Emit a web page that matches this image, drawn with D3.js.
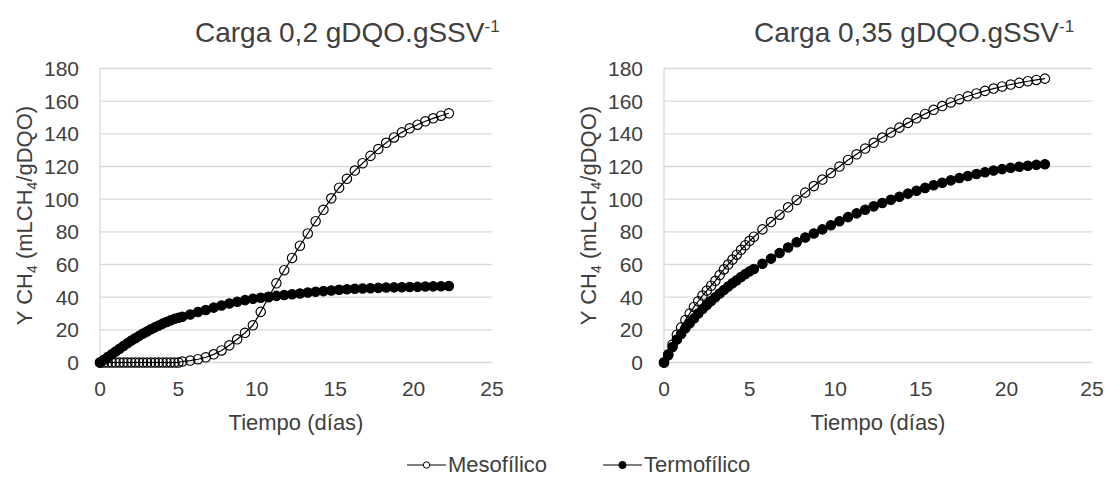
<!DOCTYPE html>
<html>
<head>
<meta charset="utf-8">
<script src="https://cdn.jsdelivr.net/npm/d3@7"></script>
<style>
  html, body { margin: 0; padding: 0; background: #fff; }
  svg { display: block; }
  text { font-family: "Liberation Sans", Arial, sans-serif; fill: #404040; }
</style>
</head>
<body>
<svg id="chart" width="1105" height="477"></svg>
<script>
// ---------- DATA ----------
const xTicks = [0, 5, 10, 15, 20, 25];
const yTicks = [0, 20, 40, 60, 80, 100, 120, 140, 160, 180];
const seriesNames = ["Mesofílico", "Termofílico"];
const chartTitles = ["Carga 0,2 gDQO.gSSV", "Carga 0,35 gDQO.gSSV"];

// time (days), shared by all series
const tiempo = [
  0, 0.25, 0.5, 0.75, 1, 1.25, 1.5, 1.75, 2, 2.25, 2.5, 2.75, 3, 3.25, 3.5, 3.75, 4, 4.25, 4.5, 4.75, 5,
  5.25, 5.75, 6.25, 6.75, 7.25, 7.75, 8.25, 8.75, 9.25, 9.75, 10.25, 10.75, 11.25, 11.75, 12.25, 12.75,
  13.25, 13.75, 14.25, 14.75, 15.25, 15.75, 16.25, 16.75, 17.25, 17.75, 18.25, 18.75, 19.25, 19.75,
  20.25, 20.75, 21.25, 21.75, 22.25
];

// Carga 0,2
const meso02 = [
  0, 0, 0, 0, 0, 0, 0, 0, 0, 0, 0, 0, 0, 0, 0, 0, 0, 0, 0, 0, 0,
  0.6, 1.2, 2.0, 3.2, 5.0, 7.4, 10.5, 14.2, 18.2, 22.8, 31, 40, 48.5, 56.5, 64, 71.5,
  79, 86.5, 93.5, 100.5, 107, 112.5, 117.5, 122, 126.5, 130.7, 134.5, 137.8, 140.9, 143.4,
  145.6, 147.7, 149.5, 151.1, 152.6
];
const termo02 = [
  0, 1.7, 3.4, 5.0, 6.7, 8.4, 10.1, 11.8, 13.4, 14.9, 16.3, 17.7, 19.0, 20.3, 21.5, 22.7, 23.8, 24.8, 25.8, 26.7, 27.4,
  28.0, 29.4, 30.9, 32.2, 33.6, 34.9, 36.1, 37.2, 38.2, 39.0, 39.7, 40.3, 40.8, 41.3, 41.8, 42.3,
  42.8, 43.3, 43.7, 44.1, 44.5, 44.8, 45.1, 45.3, 45.5, 45.7, 45.9, 46.0, 46.1, 46.2,
  46.3, 46.5, 46.6, 46.7, 46.8
];

// Carga 0,35
const meso035 = [
  0, 5, 11, 17, 21.5, 26, 30, 34, 37.5, 41, 44, 47, 50, 53.5, 57, 60, 63, 66, 69, 71.8, 74.5,
  77, 81.5, 86, 90.5, 95, 99.5, 104, 108, 112, 116, 120, 124, 127.5, 131, 134.5, 137.7,
  140.8, 143.8, 146.7, 149.5, 152.2, 154.7, 157, 159.2, 161.2, 163, 164.7, 166.3, 167.7, 169,
  170.2, 171.2, 172.2, 173, 173.8
];
const termo035 = [
  0, 4.5, 9.5, 14, 17.5, 21, 24, 27, 30, 32.7, 35.2, 37.6, 40, 42.2, 44.4, 46.5, 48.5, 50.4, 52.3, 54.1, 55.8,
  57.3, 60.4, 63.6, 67, 70.4, 73.6, 76.5, 79, 81.5, 84, 86.5, 89, 91.3, 93.5, 95.6, 97.6,
  99.6, 101.5, 103.4, 105.2, 106.9, 108.5, 110, 111.5, 112.9, 114.2, 115.4, 116.5, 117.5, 118.4,
  119.2, 119.9, 120.5, 121, 121.4
];

const panels = [
  { title: chartTitles[0], series: [meso02, termo02] },
  { title: chartTitles[1], series: [meso035, termo035] }
];

// ---------- LAYOUT ----------
const layout = [
  { x0: 100, x1: 492, yTop: 68.5, yBot: 362.5, titleX: 195, yTitleX: 32 },
  { x0: 664, x1: 1092, yTop: 68.5, yBot: 362.5, titleX: 754, yTitleX: 596 }
];
const gridColor = "#d9d9d9";
const svg = d3.select("#chart");

panels.forEach((p, i) => {
  const L = layout[i];
  const x = d3.scaleLinear().domain([0, 25]).range([L.x0, L.x1]);
  const y = d3.scaleLinear().domain([0, 180]).range([L.yBot, L.yTop]);
  const g = svg.append("g");

  // gridlines
  g.selectAll("line.grid").data(yTicks).join("line")
    .attr("x1", L.x0).attr("x2", L.x1)
    .attr("y1", d => y(d)).attr("y2", d => y(d))
    .attr("stroke", gridColor).attr("stroke-width", 1.3);
  // vertical axis line
  g.append("line")
    .attr("x1", L.x0).attr("x2", L.x0).attr("y1", y(180)).attr("y2", y(0))
    .attr("stroke", gridColor).attr("stroke-width", 1.3);

  // y tick labels
  g.selectAll("text.yt").data(yTicks).join("text")
    .attr("x", L.x0 - 21).attr("y", d => y(d)).attr("dy", "0.36em")
    .attr("text-anchor", "end").attr("font-size", 21).text(d => d);
  // x tick labels
  g.selectAll("text.xt").data(xTicks).join("text")
    .attr("x", d => x(d)).attr("y", 396)
    .attr("text-anchor", "middle").attr("font-size", 21).text(d => d);

  // x axis title
  g.append("text").attr("x", (L.x0 + L.x1) / 2).attr("y", 430)
    .attr("text-anchor", "middle").attr("font-size", 22).text("Tiempo (días)");

  // y axis title
  const yt = g.append("text")
    .attr("transform", `translate(${L.yTitleX},${(L.yTop + L.yBot) / 2}) rotate(-90)`)
    .attr("text-anchor", "middle").attr("font-size", 22);
  yt.append("tspan").text("Y CH");
  yt.append("tspan").attr("font-size", 14).attr("dy", 5).text("4");
  yt.append("tspan").attr("dy", -5).text(" (mLCH");
  yt.append("tspan").attr("font-size", 14).attr("dy", 5).text("4");
  yt.append("tspan").attr("dy", -5).text("/gDQO)");

  // chart title
  const tt = g.append("text").attr("x", L.titleX).attr("y", 42).attr("font-size", 28);
  tt.append("tspan").text(p.title);
  tt.append("tspan").attr("font-size", 17).attr("dy", -10).text("-1");

  // series
  const line = d3.line().x((d, k) => x(tiempo[k])).y(d => y(d));
  p.series.forEach((vals, s) => {
    g.append("path").datum(vals)
      .attr("d", line).attr("fill", "none")
      .attr("stroke", "#000").attr("stroke-width", 1.2);
    g.selectAll(`circle.s${s}`).data(vals).join("circle")
      .attr("class", `s${s}`)
      .attr("cx", (d, k) => x(tiempo[k])).attr("cy", d => y(d))
      .attr("r", 4.7)
      .attr("fill", s === 0 ? "none" : "#000")
      .attr("stroke", "#000").attr("stroke-width", 1.15);
  });
});

// ---------- LEGEND ----------
const legendItems = [
  { name: seriesNames[0], lx: 407, filled: false },
  { name: seriesNames[1], lx: 603, filled: true }
];
const ly = 465;
const lg = svg.append("g");
legendItems.forEach(it => {
  lg.append("line").attr("x1", it.lx).attr("x2", it.lx + 39)
    .attr("y1", ly).attr("y2", ly).attr("stroke", "#000").attr("stroke-width", 1.2);
  lg.append("circle").attr("cx", it.lx + 19.5).attr("cy", ly)
    .attr("r", it.filled ? 3.6 : 3.2)
    .attr("fill", it.filled ? "#000" : "#fff").attr("stroke", "#000").attr("stroke-width", 1);
  lg.append("text").attr("x", it.lx + 41).attr("y", 472)
    .attr("font-size", 22).text(it.name);
});
</script>
</body>
</html>
